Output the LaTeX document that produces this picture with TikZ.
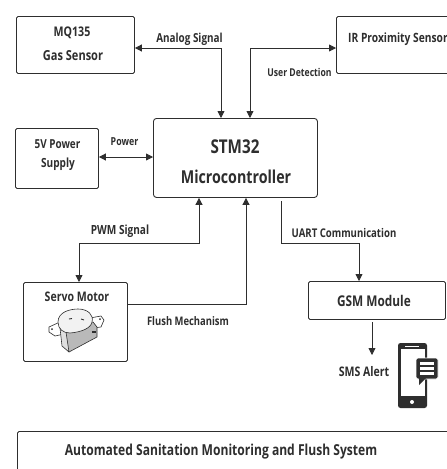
\documentclass[tikz,border=0pt]{standalone}
\usepackage{fontspec}
\setmainfont{Open Sans}[FakeStretch=0.8]
\usetikzlibrary{arrows.meta}
\definecolor{ink}{HTML}{2E2E2E}
\newcommand{\fs}[1]{\fontsize{#1}{#1}\selectfont\bfseries}
\tikzset{
  blk/.style={draw=ink,line width=0.9pt,rounded corners=1.5pt,fill=white,inner sep=0pt,anchor=north west},
  lnk/.style={draw=ink,line width=0.8pt},
  tip/.style={-{Triangle[length=7pt,width=7pt]}},
  tips/.style={{Triangle[length=7pt,width=7pt]}-{Triangle[length=7pt,width=7pt]}},
  lab/.style={text=ink,inner sep=0pt},
  ttl/.style={text=ink,inner sep=0pt,align=center},
  servoline/.style={draw=ink,line width=0.6pt,line join=round},
}
\begin{document}
\begin{tikzpicture}[x=1pt,y=-1pt]
\useasboundingbox (0,0) rectangle (447,469);
\fill[white] (0,0) rectangle (447,469);
\node[blk,minimum width=118pt,minimum height=57pt] (mq) at (16,16) {};
\node[blk,minimum width=120pt,minimum height=57pt] (ir) at (336,16) {};
\node[blk,minimum width=83pt,minimum height=60pt] (psu) at (15,128) {};
\node[blk,minimum width=164pt,minimum height=79pt,rounded corners=3pt] (mcu) at (153,118) {};
\node[blk,minimum width=104pt,minimum height=79pt] (servo) at (23,282) {};
\node[blk,minimum width=137pt,minimum height=38pt] (gsm) at (308,281) {};
\node[blk,minimum width=440pt,minimum height=50pt] (title) at (17,431) {};
\node[ttl,font=\fs{13.3}] (mqt) at (72,33) {MQ135};
\node[ttl,font=\fs{13.8}] (mqb) at (73,56) {Gas Sensor};
\node[ttl,font=\fs{12.8},anchor=west] (irt) at (348,39) {IR Proximity Sensor};
\node[ttl,font=\fs{12.4}] (psut) at (57.5,144) {5V Power};
\node[ttl,font=\fs{12.6}] (psub) at (58,164) {Supply};
\node[ttl,font=\fs{19}] (mcut) at (235,147) {STM32};
\node[ttl,font=\fs{17.8}] (mcub) at (236,177) {Microcontroller};
\node[ttl,font=\fs{13.2}] (servot) at (77,297) {Servo Motor};
\node[ttl,font=\fs{14.8}] (gsmt) at (374,301) {GSM Module};
\node[ttl,font=\fs{15.1}] (titlet) at (221,452) {Automated Sanitation Monitoring and Flush System};
\node[lab,font=\fs{12.4}] (l1) at (189.5,39) {Analog Signal};
\node[lab,font=\fs{10.8}] (l2) at (299.5,72) {User Detection};
\node[lab,font=\fs{11}] (l3) at (124.5,142) {Power};
\node[lab,font=\fs{12.6}] (l4) at (120,231) {PWM Signal};
\node[lab,font=\fs{12}] (l5) at (344,233) {UART Communication};
\node[lab,font=\fs{11.8}] (l6) at (188,321) {Flush Mechanism};
\node[lab,font=\fs{13.2}] (l7) at (364,372) {SMS Alert};
\coordinate (ya) at (221,48);
\coordinate (yb) at (250,48);
\coordinate (yp) at (0,157);
\coordinate (pwm1) at (199,243);
\coordinate (pwm2) at (79,243);
\coordinate (xf) at (246,304);
\coordinate (u0) at (281,201);
\coordinate (u1) at (281,243);
\coordinate (u2) at (359,243);
\coordinate (s0) at (372,322);
\coordinate (s1) at (372,355);
\draw[lnk,tips] (mq.east |- ya) -- (ya) -- (ya |- mcu.north);
\draw[lnk,tips] (ir.west |- yb) -- (yb) -- (yb |- mcu.north);
\draw[lnk,tips] (psu.east |- yp) -- (mcu.west |- yp);
\draw[lnk,tips] (pwm1 |- mcu.south) -- (pwm1) -- (pwm2) -- (pwm2 |- servo.north);
\draw[lnk,tip] (servo.east |- xf) -- (xf) -- (xf |- mcu.south);
\draw[lnk,tip] (u0) -- (u1) -- (u2) -- (u2 |- gsm.north);
\draw[lnk,tip] (s0) -- (s1);
% servo
\draw[servoline,fill=white] (49,327) -- (60,322) -- (66,328) -- (64,334) -- (55,336) -- (49,332) -- cycle;
\draw[servoline,fill=white] (90,318) -- (101,316) -- (104,320) -- (101,327) -- (93,328) -- cycle;
\fill[ink] (52,329) circle (1pt);
\fill[ink] (100,319) circle (1pt);
\draw[servoline,fill=gray!55] (62,327) -- (65,347) -- (69,352) -- (97,337) -- (97,327) -- (93,322) -- cycle;
\draw[servoline,fill=gray!25] (66,332) -- (69,352) -- (62,346) -- (60,328) -- cycle;
\draw[servoline,fill=gray!10] (58,322) .. controls (58,312) and (70,309) .. (78,309) .. controls (88,309) and (94,315) .. (92,322) .. controls (91,328) and (82,332) .. (70,333) .. controls (63,333) and (58,329) .. (58,322) -- cycle;
\draw[ink,line width=0.9pt] (69,319) -- (72,318.5);
\draw[ink,line width=0.9pt] (81,319) -- (84,320);
\fill[ink] (92,331) rectangle (96,333);
% phone
\fill[ink,rounded corners=2.5pt] (398,343) rectangle (427,408);
\fill[white] (400.5,349) rectangle (424.5,396);
\fill[white] (405,345.5) rectangle (419,347);
\fill[white] (412,402) circle (2pt);
\fill[ink,rounded corners=2pt,draw=white,line width=0.8pt] (416,358) rectangle (438,379);
\fill[ink] (419,378) -- (419,385) -- (426,378) -- cycle;
\fill[white] (420,362) rectangle (434,365);
\fill[white] (420,367) rectangle (434,370);
\fill[white] (420,372) rectangle (434,375);
\end{tikzpicture}
\end{document}
